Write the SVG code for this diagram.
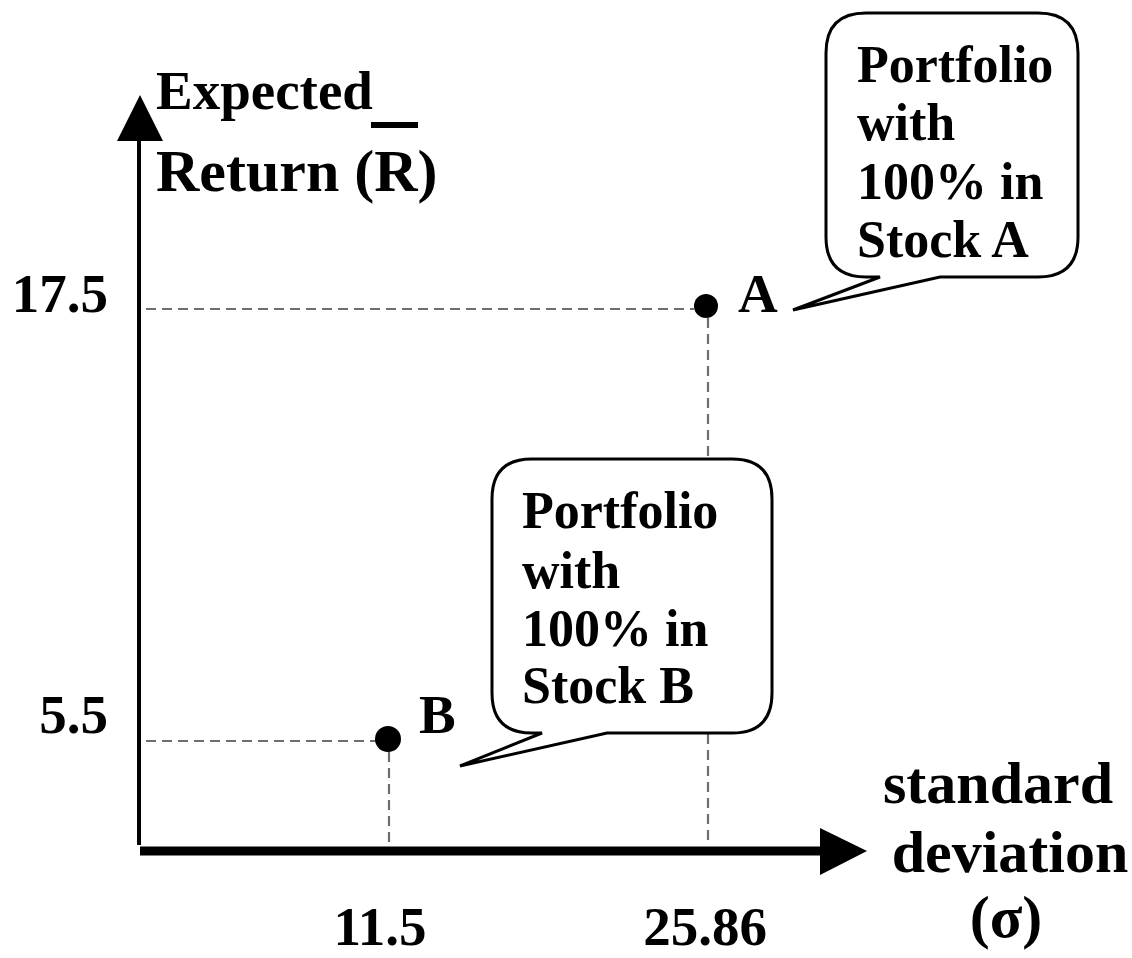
<svg xmlns="http://www.w3.org/2000/svg" width="1132" height="958" viewBox="0 0 1132 958">
<style>
text{font-family:"Liberation Serif","Times New Roman",serif;font-weight:bold;fill:#000}
.lbl{font-size:55px}
.big{font-size:60px}
.bub{font-size:52px}
.dash{stroke:#6e6e6e;stroke-width:2.2;stroke-dasharray:10,6;fill:none}
.bubble{fill:#fff;stroke:#000;stroke-width:3}
</style>
<rect width="1132" height="958" fill="#fff"/>
<g id="guides">
<line class="dash" x1="146" y1="309" x2="694" y2="309"/>
<line class="dash" x1="708" y1="318" x2="708" y2="845"/>
<line class="dash" x1="146" y1="741" x2="376" y2="741"/>
<line class="dash" x1="389" y1="752" x2="389" y2="845"/>
</g>
<g id="axes">
<line x1="139" y1="845" x2="139" y2="138" stroke="#000" stroke-width="4"/>
<polygon points="140,95 163,141 117,141" fill="#000"/>
<line x1="140" y1="851" x2="822" y2="851" stroke="#000" stroke-width="9"/>
<polygon points="867,851 820,828 820,875" fill="#000"/>
</g>
<g id="y-label">
<text class="lbl" x="156" y="109">Expected</text>
<text class="big" x="156" y="191">Return (R)</text>
<rect x="371" y="122" width="47" height="6" fill="#000"/>
</g>
<g id="x-label">
<text class="big" x="998" y="803" text-anchor="middle">standard</text>
<text class="big" x="1010" y="872" text-anchor="middle">deviation</text>
<text class="big" x="1006" y="937" text-anchor="middle">(σ)</text>
</g>
<g id="ticks">
<text class="lbl" x="108" y="312" text-anchor="end">17.5</text>
<text class="lbl" x="108" y="733" text-anchor="end">5.5</text>
<text class="lbl" x="380" y="945" text-anchor="middle">11.5</text>
<text class="lbl" x="705" y="945" text-anchor="middle">25.86</text>
</g>
<g id="point-A">
<circle cx="706" cy="306" r="12" fill="#000"/>
<text class="lbl" x="738" y="312">A</text>
</g>
<g id="point-B">
<circle cx="388" cy="739" r="13" fill="#000"/>
<text class="lbl" x="419" y="733">B</text>
</g>
<g id="bubble-A">
<path class="bubble" d="M866,13 H1038 Q1078,13 1078,53 V237 Q1078,277 1038,277 H940 L793,310 L880,277 H866 Q826,277 826,237 V53 Q826,13 866,13 Z"/>
<text class="bub" x="857" y="82">Portfolio</text>
<text class="bub" x="857" y="140">with</text>
<text class="bub" x="857" y="199">100% in</text>
<text class="bub" x="857" y="257">Stock A</text>
</g>
<g id="bubble-B">
<path class="bubble" d="M532,459 H732 Q772,459 772,499 V693 Q772,733 732,733 H607 L460,766 L542,733 H532 Q492,733 492,693 V499 Q492,459 532,459 Z"/>
<text class="bub" x="522" y="528">Portfolio</text>
<text class="bub" x="522" y="588">with</text>
<text class="bub" x="522" y="646">100% in</text>
<text class="bub" x="522" y="703">Stock B</text>
</g>
</svg>
